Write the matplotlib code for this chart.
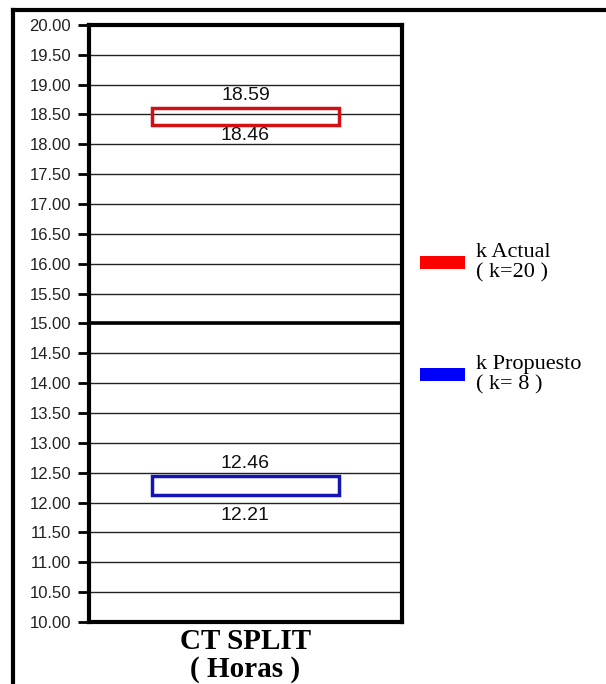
import matplotlib
matplotlib.use("Agg")
import matplotlib.pyplot as plt
from matplotlib.lines import Line2D
from matplotlib.patches import Rectangle

# values
series = ["k Actual\n( k=20 )", "k Propuesto\n( k= 8 )"]
colors = ["#d40f14", "#1414b4"]
legend_colors = ["#ff0000", "#0000ff"]
box_bottom = [18.33, 12.12]   # drawn box edges
box_top = [18.61, 12.44]
label_top = ["18.59", "12.46"]
label_bottom = ["18.46", "12.21"]
y_ticks = [10 + 0.5 * i for i in range(21)]
category = "CT SPLIT\n( Horas )"

fig = plt.figure(figsize=(6.06, 6.84), dpi=100)
ax = fig.add_axes([0.147, 0.0906, 0.516, 0.873])

ax.set_xlim(0, 1)
ax.set_ylim(10, 20)
ax.set_yticks(y_ticks)
ax.set_yticklabels([f"{v:.2f}" for v in y_ticks], family="Liberation Sans",
                   fontsize=12, color="#222222")
ax.set_xticks([])
ax.tick_params(axis="y", length=8, width=2, pad=5, color="black")

# horizontal grid
for v in y_ticks[1:-1]:
    ax.axhline(v, color="#222222", lw=1.0, zorder=1)
ax.axhline(15, color="black", lw=2.6, zorder=1)

for s in ax.spines.values():
    s.set_linewidth(3)
    s.set_color("black")

# boxes with their labels (the lower labels sit at different gaps)
bottom_gap = [-2, -8.5]
for i in range(len(series)):
    h = box_top[i] - box_bottom[i]
    ax.bar(0.5, h, bottom=box_bottom[i], width=0.6, fill=False,
           edgecolor=colors[i], linewidth=2.5, zorder=3)
    ax.annotate(label_top[i], (0.5, box_top[i]), xytext=(0, 3),
                textcoords="offset points", ha="center", va="bottom",
                family="Liberation Sans", fontsize=14, color="#111111")
    ax.annotate(label_bottom[i], (0.5, box_bottom[i]), xytext=(0, bottom_gap[i]),
                textcoords="offset points", ha="center", va="top",
                family="Liberation Sans", fontsize=14, color="#111111")

ax.set_xlabel(category, family="Liberation Serif", fontweight="bold",
              fontsize=21, labelpad=4, linespacing=1.05)

# legend drawn by hand to the right of the plot
legend_y = [0.6155, 0.4525]
for i in range(len(series)):
    fig.add_artist(Rectangle((0.693, legend_y[i] - 0.0095), 0.074, 0.019,
                             transform=fig.transFigure,
                             facecolor=legend_colors[i], edgecolor="none"))
    fig.text(0.785, legend_y[i], series[i], family="Liberation Serif",
             fontsize=16, va="center", ha="left", linespacing=1.1)

# outer frame (left and top only)
fig.add_artist(Line2D([0.021, 0.021], [0.0, 0.985], transform=fig.transFigure,
                      color="black", lw=3))
fig.add_artist(Line2D([0.021, 1.0], [0.985, 0.985], transform=fig.transFigure,
                      color="black", lw=3))

fig.savefig("out.png", dpi=100)
